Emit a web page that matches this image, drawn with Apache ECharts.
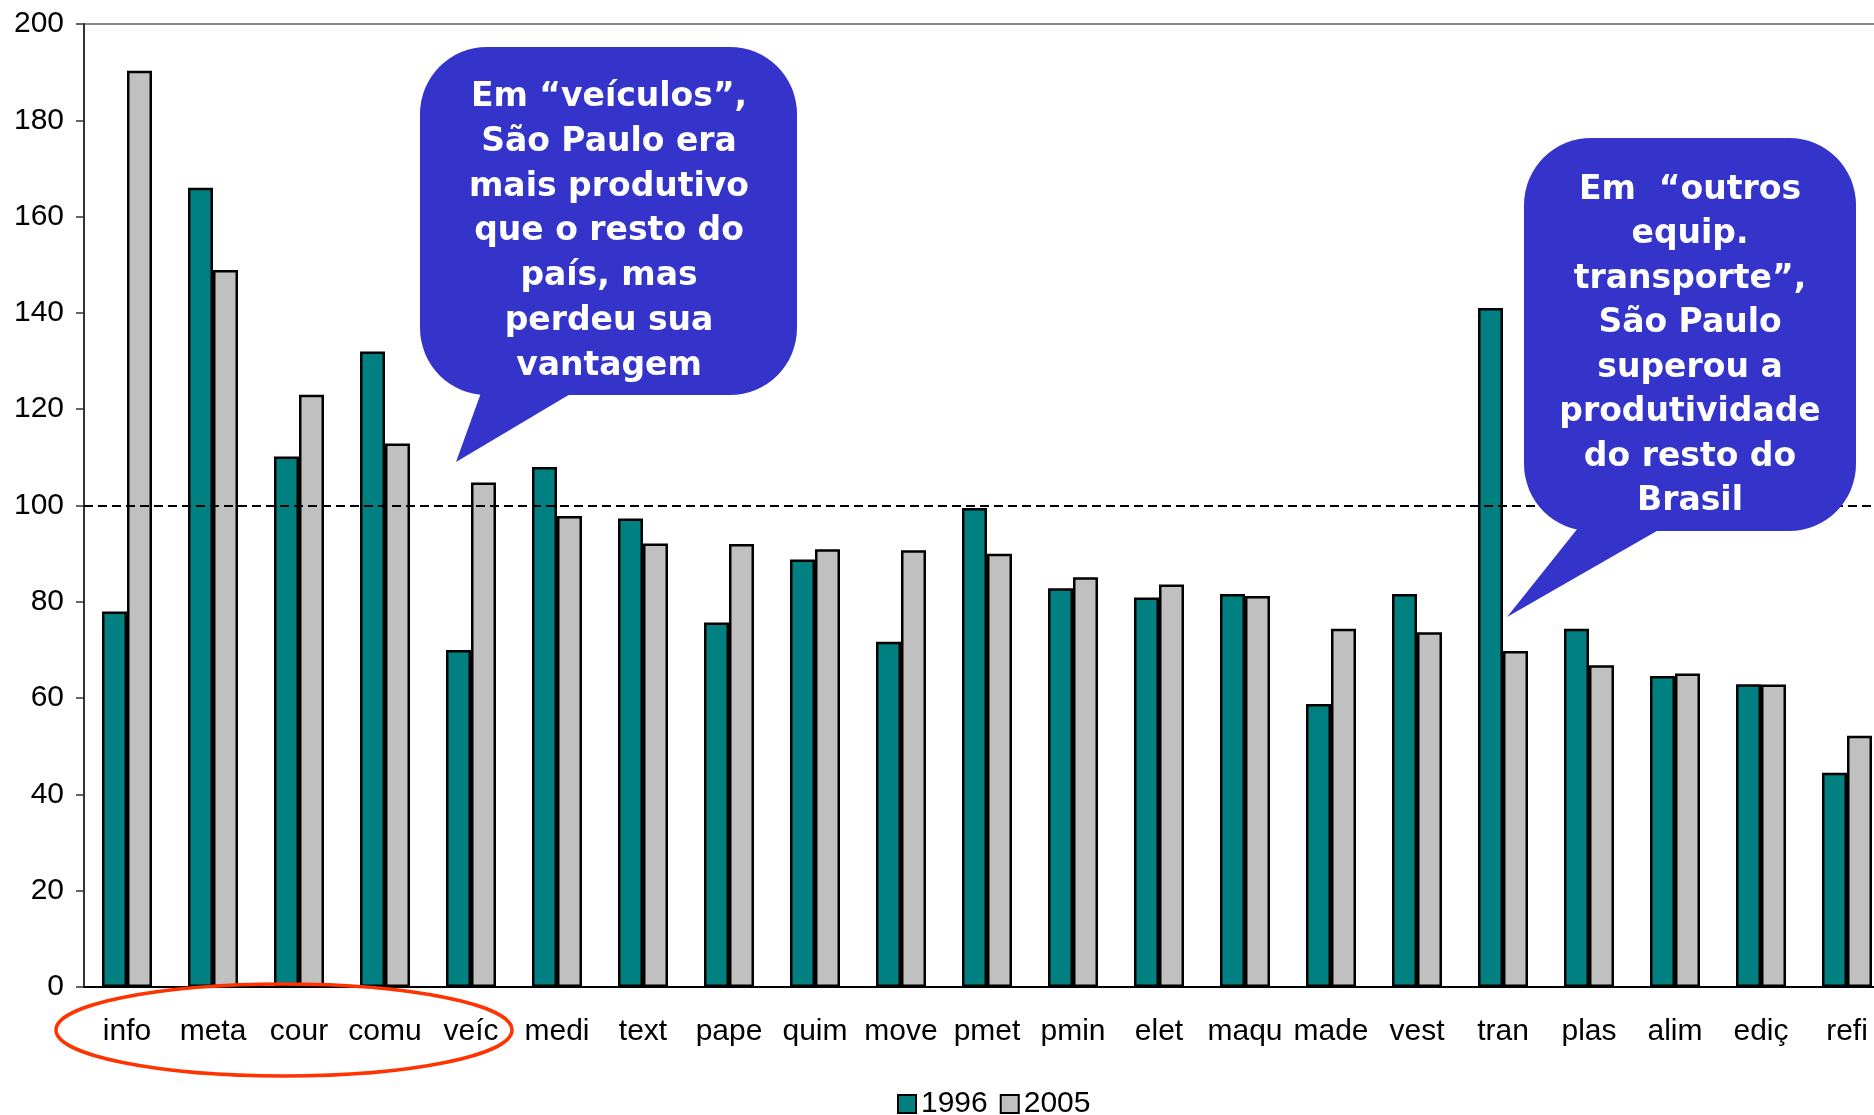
<!DOCTYPE html>
<html>
<head>
<meta charset="utf-8">
<title>Produtividade relativa</title>
<script src="https://cdn.jsdelivr.net/npm/echarts@6/dist/echarts.min.js"></script>
<style>
    html, body { margin: 0; padding: 0; background: #fff; overflow: hidden; }
    /* um pouco mais largo que a janela: o gráfico original é cortado à direita */
    #chart { width: 1890px; height: 1115px; }
</style>
</head>
<body>
<div id="chart"></div>
<script>
const categories = ['info', 'meta', 'cour', 'comu', 'veíc', 'medi', 'text', 'pape', 'quim', 'move', 'pmet',
    'pmin', 'elet', 'maqu', 'made', 'vest', 'tran', 'plas', 'alim', 'ediç', 'refi'];
const values1996 = [78, 166, 110.2, 132, 70, 108, 97.3, 75.7, 88.8, 71.7, 99.5,
    82.8, 80.9, 81.6, 58.8, 81.6, 141, 74.4, 64.6, 62.9, 44.5];
const values2005 = [190.3, 148.9, 123, 112.9, 104.8, 97.8, 92.1, 92, 90.9, 90.7, 90,
    85.1, 83.6, 81.2, 74.4, 73.7, 69.8, 66.8, 65.1, 62.8, 52.2];
const seriesNames = ['1996', '2005'];
const referenceLine = 100;
const yTicks = { min: 0, max: 200, interval: 20 };

const callout1 = 'Em “veículos”,\nSão Paulo era\nmais produtivo\nque o resto do\npaís, mas\nperdeu sua\nvantagem';
const callout2 = 'Em  “outros\nequip.\ntransporte”,\nSão Paulo\nsuperou a\nprodutividade\ndo resto do\nBrasil';

const axisFont = 'Liberation Sans, Arial, sans-serif';
const blue = '#3434CA';

let myChart = echarts.init(document.getElementById('chart'));

let option = {
    animation: false,
    grid: {
        left: 84,
        right: 0,
        top: 24,
        bottom: 128,
        show: true,
        borderColor: '#888',
        borderWidth: 2
    },
    legend: {
        data: seriesNames,
        left: 892,
        top: 1084,
        itemWidth: 18,
        itemHeight: 18,
        itemGap: 12,
        icon: 'rect',
        textStyle: { fontFamily: axisFont, fontSize: 30, color: '#000' }
    },
    xAxis: {
        type: 'category',
        data: categories,
        axisLine: { lineStyle: { color: '#000', width: 2 } },
        axisTick: { length: 8, lineStyle: { color: '#000', width: 1.5 } },
        axisLabel: { interval: 0, fontFamily: axisFont, fontSize: 30, color: '#000', margin: 30 }
    },
    yAxis: {
        type: 'value',
        min: yTicks.min,
        max: yTicks.max,
        interval: yTicks.interval,
        axisLine: { show: true, lineStyle: { color: '#333', width: 2 } },
        axisTick: { show: true, length: 8, lineStyle: { color: '#333', width: 1.5 } },
        axisLabel: { fontFamily: axisFont, fontSize: 30, color: '#000', margin: 20 },
        splitLine: { show: false }
    },
    series: [
        {
            name: seriesNames[0],
            type: 'bar',
            data: values1996,
            barWidth: 25,
            barGap: '0%',
            itemStyle: { color: '#008080', borderColor: '#000', borderWidth: 2.5 },
            markLine: {
                silent: true,
                symbol: 'none',
                label: { show: false },
                lineStyle: { color: '#000', type: [9, 5], width: 2 },
                data: [{ yAxis: referenceLine }]
            }
        },
        {
            name: seriesNames[1],
            type: 'bar',
            data: values2005,
            barWidth: 25,
            itemStyle: { color: '#C0C0C0', borderColor: '#000', borderWidth: 2.5 }
        }
    ],
    graphic: [
        // balão "veículos"
        { type: 'rect', z: 100, shape: { x: 420, y: 47, width: 377, height: 348, r: 67 }, style: { fill: blue } },
        { type: 'polygon', z: 100, shape: { points: [[482, 390], [577, 390], [456, 462]] }, style: { fill: blue } },
        {
            type: 'text', z: 101, x: 609, y: 75,
            style: {
                text: callout1, fill: '#fff', align: 'center', verticalAlign: 'top',
                font: 'bold 33px DejaVu Sans', lineHeight: 44.8
            }
        },
        // balão "outros equip. transporte"
        { type: 'rect', z: 100, shape: { x: 1524, y: 138, width: 332, height: 393, r: 67 }, style: { fill: blue } },
        { type: 'polygon', z: 100, shape: { points: [[1578, 528], [1662, 528], [1507, 617]] }, style: { fill: blue } },
        {
            type: 'text', z: 101, x: 1690, y: 168,
            style: {
                text: callout2, fill: '#fff', align: 'center', verticalAlign: 'top',
                font: 'bold 33px DejaVu Sans', lineHeight: 44.5
            }
        },
        // elipse vermelha em volta das primeiras categorias
        {
            type: 'ellipse', z: 100,
            shape: { cx: 284, cy: 1030, rx: 228, ry: 46 },
            style: { fill: 'none', stroke: '#FF3300', lineWidth: 3.5 }
        }
    ]
};

myChart.setOption(option);
</script>
</body>
</html>
